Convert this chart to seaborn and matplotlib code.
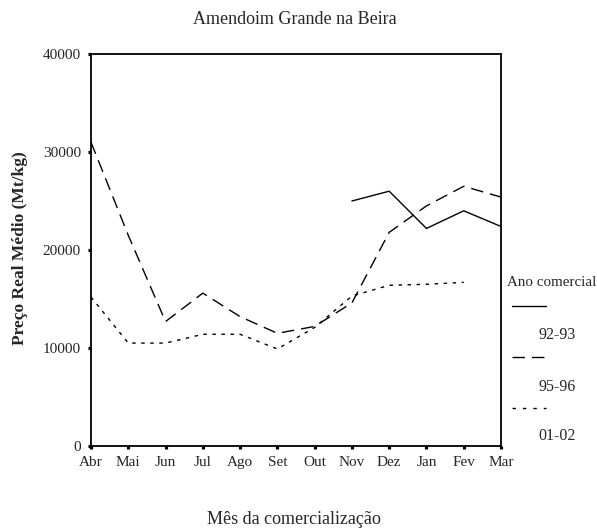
import numpy as np
import pandas as pd
import seaborn as sns
import matplotlib
matplotlib.use('Agg')
import matplotlib.pyplot as plt
from matplotlib.lines import Line2D

meses = ['Abr', 'Mai', 'Jun', 'Jul', 'Ago', 'Set', 'Out', 'Nov', 'Dez', 'Jan', 'Fev', 'Mar']
anos = ['92-93', '95-96', '01-02']
# preço real médio (Mt/kg); None = sem dados
p_92_93 = [None, None, None, None, None, None, None, 25000, 26000, 22200, 24000, 22400]
p_95_96 = [31000, 21500, 12700, 15600, 13200, 11500, 12200, 14600, 21800, 24500, 26500, 25400]
p_01_02 = [15200, 10500, 10500, 11400, 11400, 9900, 12100, 15300, 16400, 16500, 16700, None]

sns.set_style('white')
plt.rcParams['font.family'] = ['Liberation Serif', 'DejaVu Serif']

linhas = []
for ano, vals in zip(anos, [p_92_93, p_95_96, p_01_02]):
    for i, v in enumerate(vals):
        if v is not None:
            linhas.append({'mes': i, 'preco': v, 'ano': ano})
df = pd.DataFrame(linhas)

dashes = {'92-93': '', '95-96': (9, 5), '01-02': (2.5, 4)}

fig = plt.figure(figsize=(5.97, 5.31), dpi=100)
ax = fig.add_axes([0.1524, 0.1601, 0.6868, 0.7382])
sns.lineplot(data=df, x='mes', y='preco', style='ano', dashes=dashes,
             color='black', linewidth=1, ax=ax, legend=False, sort=True)

ax.set_xlim(0, 11)
ax.set_ylim(0, 40000)
ax.set_xticks(range(12))
ax.set_xticklabels(meses)
ax.set_yticks([0, 10000, 20000, 30000, 40000])
ax.set_yticklabels(['0', '10000', '20000', '30000', '40000'])
ax.tick_params(bottom=True, left=True, direction='out', length=2.3, width=2.3,
               labelsize=11, pad=5, color='black')
for s in ax.spines.values():
    s.set_color('black')
    s.set_linewidth(1.3)
ax.set_xlabel('')
ax.set_ylabel('')

W, H = 597, 531
fig.text(20 / W, 1 - 248 / H, 'Preço Real Médio (Mt/kg)', rotation=90, ha='center', va='center',
         fontsize=12.5, fontweight='bold')
fig.text(295 / W, 1 - 19 / H, 'Amendoim Grande na Beira', ha='center', va='center', fontsize=13)
fig.text(294 / W, 1 - 519 / H, 'Mês da comercialização', ha='center', va='center', fontsize=13)

# legenda manual à direita
fig.text(507 / W, 1 - 282 / H, 'Ano comercial', ha='left', va='center', fontsize=10.8)
estilos = [None, (9, 5), (2.5, 5)]
ys_linha = [306, 357, 408]
ys_texto = [335, 387, 436]
for ano, d, yl, yt in zip(anos, estilos, ys_linha, ys_texto):
    ln = Line2D([512 / W, 546 / W], [1 - yl / H, 1 - yl / H], color='black',
                linewidth=1, transform=fig.transFigure)
    if d:
        ln.set_dashes(d)
    fig.add_artist(ln)
    fig.text(576 / W, 1 - yt / H, ano, ha='right', va='center', fontsize=11.5)

fig.savefig('out.png', dpi=100)
